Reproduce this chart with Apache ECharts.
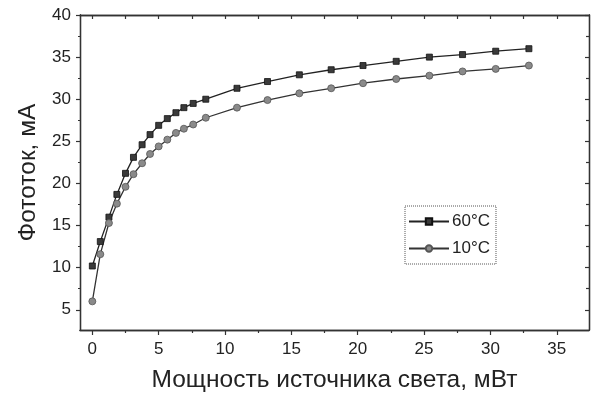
<!DOCTYPE html>
<html>
<head>
<meta charset="utf-8">
<script src="https://cdn.jsdelivr.net/npm/echarts@6/dist/echarts.min.js"></script>
<style>
html,body{margin:0;padding:0;background:#fff;}
#c{width:599px;height:398px;}
</style>
</head>
<body>
<div id="c"></div>
<script>
// Data
var powerMW = [0, 0.6, 1.25, 1.85, 2.5, 3.1, 3.75, 4.35, 5.0, 5.65, 6.3, 6.9, 7.6, 8.55, 10.9, 13.2, 15.6, 18.0, 20.4, 22.9, 25.4, 27.9, 30.4, 32.9];
var current60 = [10.2, 13.1, 16.0, 18.7, 21.2, 23.1, 24.6, 25.8, 26.9, 27.7, 28.4, 29.0, 29.5, 30.0, 31.3, 32.1, 32.9, 33.5, 34.0, 34.5, 35.0, 35.3, 35.7, 36.0];
var current10 = [6.0, 11.6, 15.3, 17.6, 19.6, 21.1, 22.4, 23.5, 24.4, 25.2, 26.0, 26.5, 27.0, 27.8, 29.0, 29.9, 30.7, 31.3, 31.9, 32.4, 32.8, 33.3, 33.6, 34.0];
var seriesNames = ['60°C', '10°C'];
var xMajorTicks = [0, 5, 10, 15, 20, 25, 30, 35];
var xMinorTicks = [2.5, 7.5, 12.5, 17.5, 22.5, 27.5, 32.5];
var yMajorTicks = [5, 10, 15, 20, 25, 30, 35, 40];
var yMinorTicks = [2.5, 7.5, 12.5, 17.5, 22.5, 27.5, 32.5, 37.5];
var xTitle = 'Мощность источника света, мВт';
var yTitle = 'Фототок, мА';

function pairs(xs, ys){ return xs.map(function(x,i){ return [x, ys[i]]; }); }

var FONT = 'Liberation Sans, Arial, sans-serif';
var XMIN = -0.93, XMAX = 37.43, YMIN = 2.6, YMAX = 40;
var axisLineStyle = {color:'#333', width:1.3};

function xAxisDef(pos, ticks, len, inside, labels, name){
  var a = {
    type:'value', position:pos, min:XMIN, max:XMAX,
    axisLine:{show:true, onZero:false, lineStyle:axisLineStyle},
    axisTick:{show:true, inside:inside, length:len, customValues:ticks, lineStyle:{color:'#333', width:1.2}},
    axisLabel:{show:labels, customValues:ticks, fontFamily:FONT, fontSize:17, color:'#222', margin:11},
    splitLine:{show:false}
  };
  if(name){ a.name = name; a.nameLocation='middle'; a.nameGap=38; a.nameTextStyle={fontFamily:FONT, fontSize:24.5, color:'#222'}; }
  return a;
}
function yAxisDef(pos, ticks, len, inside, labels, name){
  var a = {
    type:'value', position:pos, min:YMIN, max:YMAX,
    axisLine:{show:true, onZero:false, lineStyle:axisLineStyle},
    axisTick:{show:true, inside:inside, length:len, customValues:ticks, lineStyle:{color:'#333', width:1.2}},
    axisLabel:{show:labels, customValues:ticks, fontFamily:FONT, fontSize:17, color:'#222', margin:9},
    splitLine:{show:false}
  };
  if(name){ a.name = name; a.nameLocation='middle'; a.nameGap=38; a.nameTextStyle={fontFamily:FONT, fontSize:24.5, color:'#222'}; }
  return a;
}

var chart = echarts.init(document.getElementById('c'), null, {renderer:'canvas'});
chart.setOption({
  animation:false,
  backgroundColor:'#fff',
  grid:{left:80, right:10, top:15, bottom:65},
  xAxis:[
    xAxisDef('bottom', xMajorTicks, 5, false, true, xTitle),
    xAxisDef('bottom', xMinorTicks, 3, false, false),
    xAxisDef('top', xMajorTicks, 4, true, false),
    xAxisDef('top', xMinorTicks, 4, true, false)
  ],
  yAxis:[
    yAxisDef('left', yMajorTicks, 4, false, true, yTitle),
    yAxisDef('left', yMinorTicks, 2, false, false),
    yAxisDef('right', yMajorTicks, 4, true, false),
    yAxisDef('right', yMinorTicks, 3, true, false)
  ],
  legend:{
    orient:'vertical', left:405, top:206,
    padding:[7,6,7,3], itemGap:10, itemWidth:40, itemHeight:8,
    borderColor:'#555', borderWidth:1, borderType:'dotted',
    backgroundColor:'#fff',
    textStyle:{fontFamily:FONT, fontSize:17, color:'#222', padding:[0,0,0,-2]},
    data:seriesNames
  },
  series:[
    {
      name:seriesNames[0], type:'line', xAxisIndex:0, yAxisIndex:0,
      data:pairs(powerMW, current60),
      symbol:'rect', symbolSize:6,
      lineStyle:{color:'#222', width:1.3},
      itemStyle:{color:'#3a3a3a', borderColor:'#111', borderWidth:0.8}
    },
    {
      name:seriesNames[1], type:'line', xAxisIndex:0, yAxisIndex:0,
      data:pairs(powerMW, current10),
      symbol:'circle', symbolSize:7,
      lineStyle:{color:'#333', width:1.3},
      itemStyle:{color:'#8a8a8a', borderColor:'#555', borderWidth:0.8}
    }
  ]
});
</script>
</body>
</html>
